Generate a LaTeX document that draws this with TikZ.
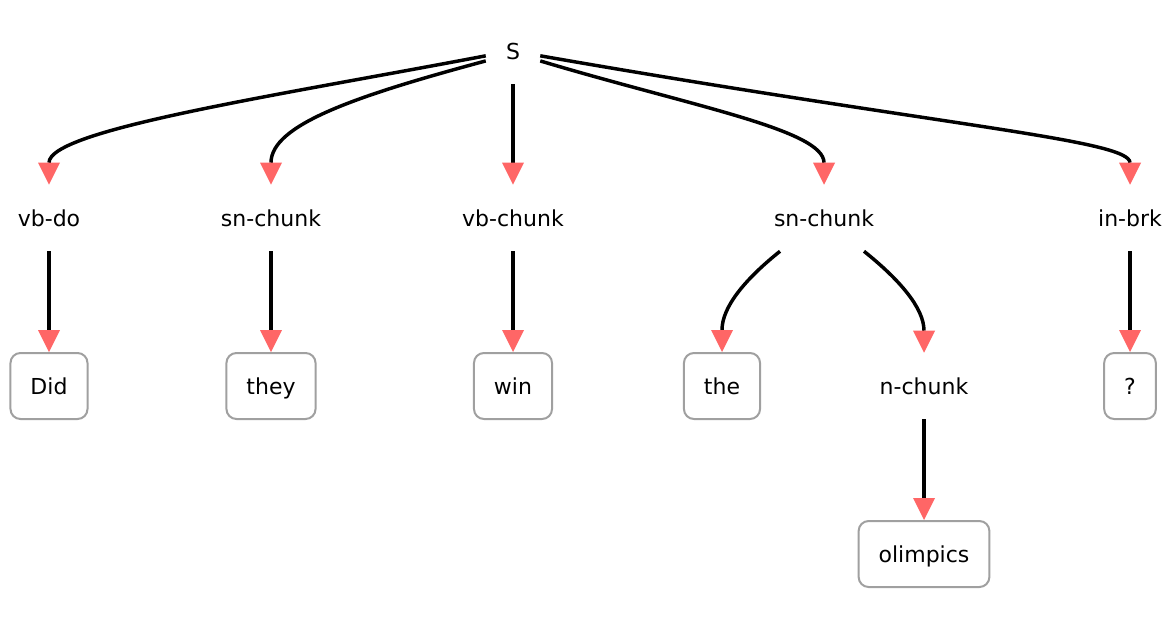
\documentclass[tikz,border=0pt]{standalone}
\usepackage{fontspec}
\setmainfont{DejaVu Sans}
\usetikzlibrary{arrows.meta}
\definecolor{tipred}{HTML}{FF6666}
\definecolor{boxgray}{HTML}{A0A0A0}
\begin{document}
\begin{tikzpicture}[x=0.75pt, y=-0.75pt,
        cat/.style={minimum height=49.5pt, inner xsep=15pt, text height=13pt, text depth=1pt,
                    font=\fontsize{16.5}{20}\selectfont},
        leaf/.style={cat, draw=boxgray, line width=1.5pt, rounded corners=7.5pt},
        edge/.style={line width=2.6pt, -{Triangle[width=16.5pt, length=16.5pt, line width=0pt, color=tipred]}}]
                    \useasboundingbox (0,0) rectangle (1175,629);

                    \node[cat] (S) at (513, 51) {S};
                    \node[cat] (vbdo) at (49, 218) {vb-do};
                    \node[cat] (snchunkA) at (271, 218) {sn-chunk};
                    \node[cat] (vbchunk) at (513, 218) {vb-chunk};
                    \node[cat] (snchunkB) at (824, 218) {sn-chunk};
                    \node[cat] (inbrk) at (1130, 218) {in-brk};

                    \node[leaf] (did) at (49, 386) {Did};
                    \node[leaf] (they) at (271, 386) {they};
                    \node[leaf] (win) at (513, 386) {win};
                    \node[leaf] (the) at (722, 386) {the};
                    \node[cat] (nchunk) at (924, 386) {n-chunk};
                    \node[leaf] (qmark) at (1130, 386) {?};
                    \node[leaf] (olimpics) at (924, 554) {olimpics};

                    \draw[edge] (S.190) .. controls +(-210,40) and +(0,-55) .. (vbdo.north);
                    \draw[edge] (S.200) .. controls +(-130,35) and +(0,-60) .. (snchunkA.north);
                    \draw[edge] (S.south) -- (vbchunk.north);
                    \draw[edge] (S.340) .. controls +(150,45) and +(0,-55) .. (snchunkB.north);
                    \draw[edge] (S.350) .. controls +(400,70) and +(0,-45) .. (inbrk.north);

                    \draw[edge] (vbdo) -- (did);
                    \draw[edge] (snchunkA) -- (they);
                    \draw[edge] (vbchunk) -- (win);
                    \draw[edge] ([xshift=-33pt]snchunkB.south) .. controls +(-35,28) and +(0,-45) .. (the.north);
                    \draw[edge] ([xshift=30pt]snchunkB.south) .. controls +(35,28) and +(0,-45) .. (nchunk.north);
                    \draw[edge] (inbrk) -- (qmark);
                    \draw[edge] (nchunk) -- (olimpics);
                \end{tikzpicture}
\end{document}
